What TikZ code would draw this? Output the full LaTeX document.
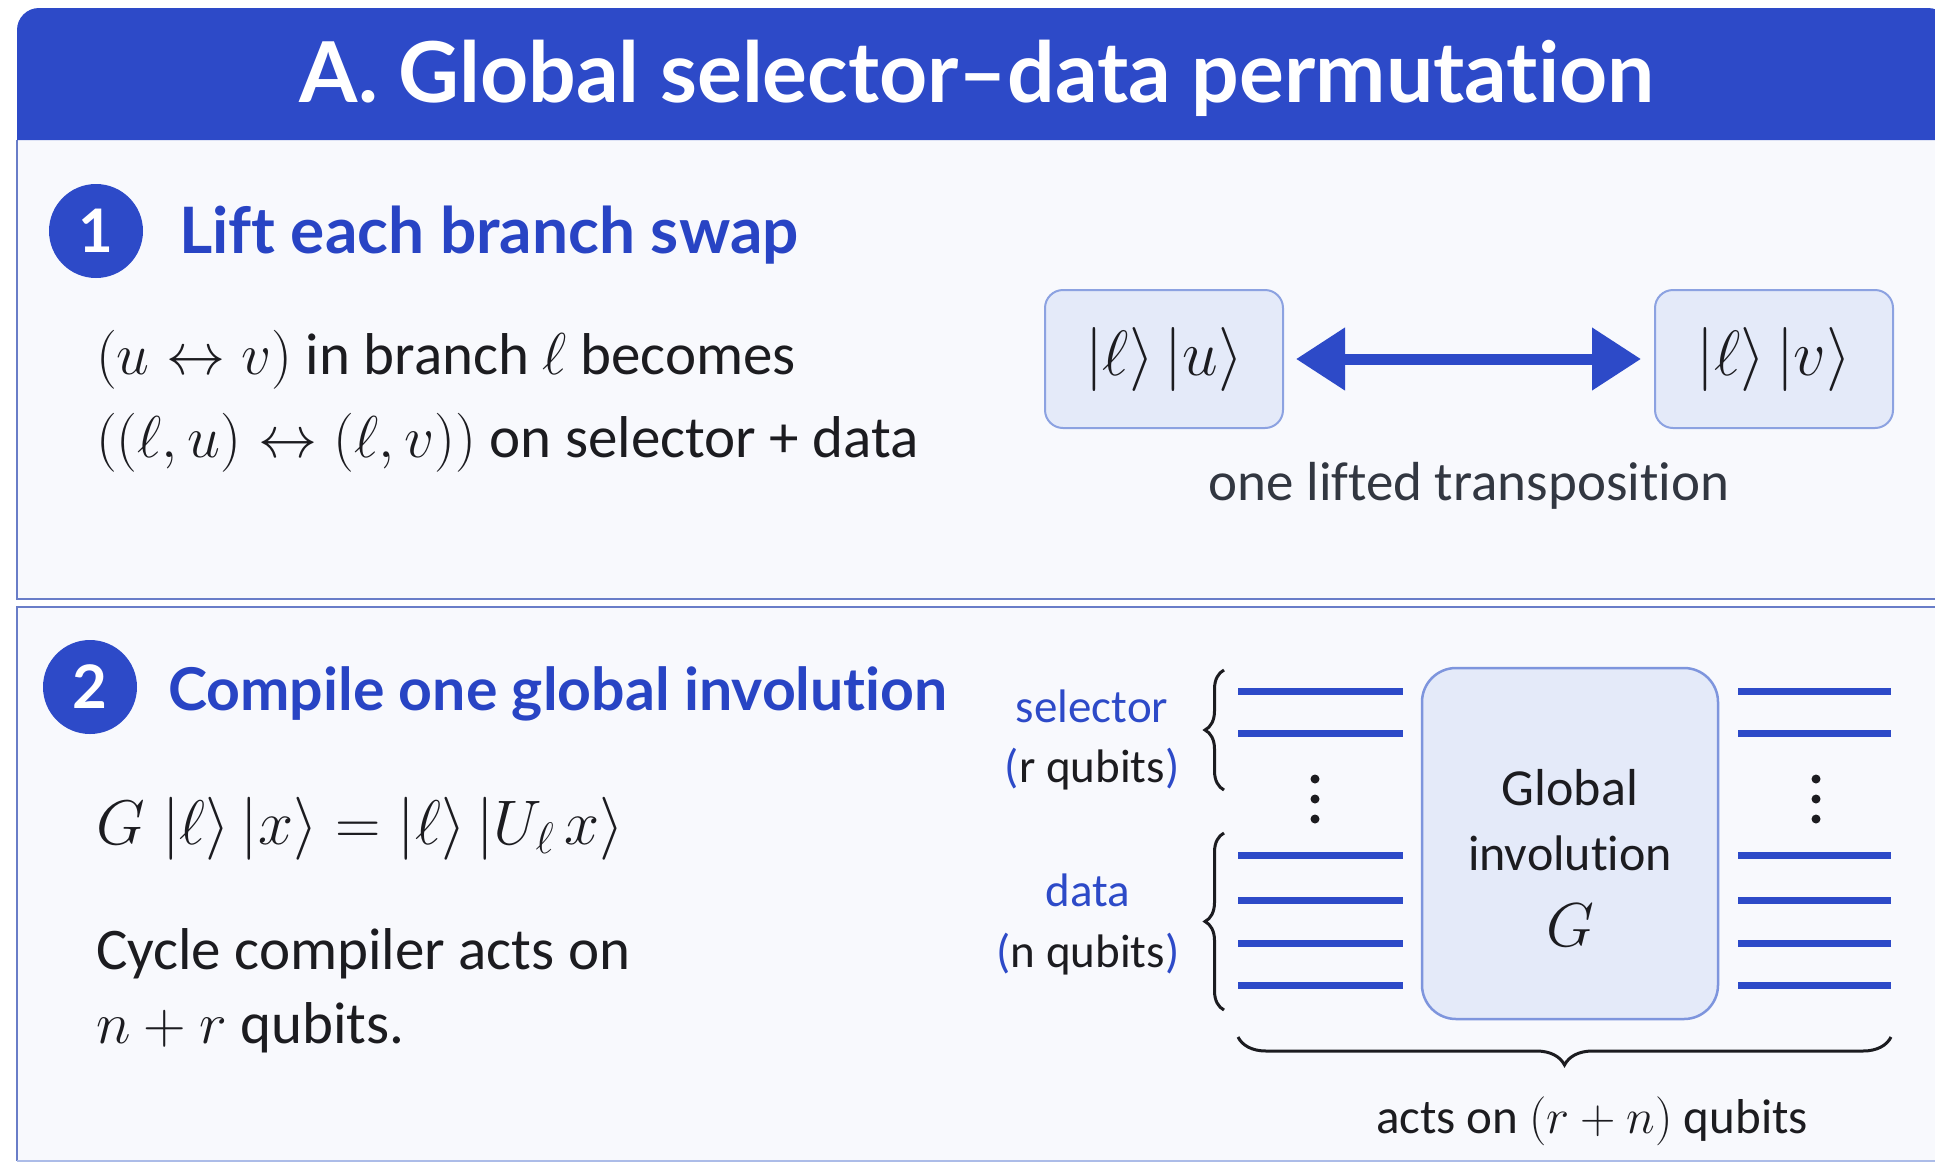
\RequirePackage{fix-cm}
\documentclass[tikz,border=0pt]{standalone}
\usepackage{fontspec}
\setmainfont{Carlito}[Ligatures=NoCommon]
\newfontfamily\headfont{Lato}[Ligatures=NoCommon]
\usetikzlibrary{arrows.meta,decorations.pathreplacing}

\definecolor{hdrblue}{RGB}{45,74,200}
\definecolor{headblue}{RGB}{40,68,196}
\definecolor{panelbg}{RGB}{248,249,253}
\definecolor{panelline}{RGB}{105,125,200}
\definecolor{panellight}{RGB}{172,188,232}
\definecolor{boxfill}{RGB}{228,234,249}
\definecolor{boxline}{RGB}{140,162,225}
\definecolor{ink}{RGB}{28,28,32}
\definecolor{graytxt}{RGB}{50,55,65}

\begin{document}
\begin{tikzpicture}[x=1pt,y=-1pt,
  every node/.style={inner sep=0pt,outer sep=0pt},
  numdot/.style={circle,fill=hdrblue,minimum size=94pt,text=white,
    font=\headfont\bfseries\fontsize{60}{60}\selectfont},
  heading/.style={anchor=base west,text=headblue,
    font=\headfont\bfseries\fontsize{#1}{66}\selectfont},
  body/.style={anchor=base west,text=ink,font=\fontsize{59}{64}\selectfont},
  ketbox/.style={draw=boxline,fill=boxfill,line width=2pt,rounded corners=18pt,
    minimum width=238pt,minimum height=138pt,text=ink,
    font=\fontsize{64}{66}\selectfont},
  wire/.style={hdrblue,line width=7pt},
  regbrace/.style={ink,line width=3pt,decorate},
  reglabel/.style={anchor=base,font=\fontsize{47}{50}\selectfont},
  gatetext/.style={anchor=base,text=ink,font=\fontsize{#1}{54}\selectfont},
]
\useasboundingbox (0,0) rectangle (1935,1163);
\fill[white] (0,0) rectangle (1935,1163);

% panel frames
\fill[panelbg] (17,140) rectangle (1940,599);
\draw[panelline,line width=2.5pt] (17,140) -- (17,599) -- (1940,599);
\fill[panelbg] (17,607) rectangle (1940,1161);
\draw[panelline,line width=2.5pt] (1940,607) -- (17,607) -- (17,1161);
\draw[panellight,line width=2.5pt] (17,1161) -- (1940,1161);

% header band
\fill[hdrblue] (17,140) [rounded corners=22pt] -- (17,8) -- (1950,8) [sharp corners] -- (1950,140) -- cycle;
\node[text=white,font=\headfont\bfseries\fontsize{84}{86}\selectfont] (title) at (977,78)
  {A. Global selector–data permutation};

% step 1
\node[numdot] (n1) at (96,231) {1};
\node[heading=64] (h1) at (179,253) {Lift each branch swap};
\node[body] (t1a) at (96,374) {$(u \leftrightarrow v)$ in branch $\ell$ becomes};
\node[body] (t1b) at (96,457) {$((\ell,u) \leftrightarrow (\ell,v))$ on selector + data};

\node[ketbox] (b1) at (1164,359) {$|\ell\rangle\,|u\rangle$};
\node[ketbox] (b2) at (1774,359) {$|\ell\rangle\,|v\rangle$};
\draw[hdrblue,line width=11pt,
  {Triangle[length=49pt,width=60pt]}-{Triangle[length=49pt,width=60pt]},
  shorten <=13pt,shorten >=14pt] (b1) -- (b2);
\node[anchor=base,text=graytxt,font=\fontsize{55}{58}\selectfont] (cap1) at (1469,500)
  {one lifted transposition};

% step 2
\node[numdot] (n2) at (90,687) {2};
\node[heading=59] (h2) at (168,710) {Compile one global involution};
\node[body,font=\fontsize{63}{66}\selectfont] (eq) at (96,844)
  {$G\;|\ell\rangle\,|x\rangle = |\ell\rangle\,|U_\ell\, x\rangle$};
\node[body] (t2a) at (96,969) {Cycle compiler acts on};
\node[body] (t2b) at (96,1043) {$n+r$ qubits.};

% circuit
\node[draw=boxline!85!hdrblue,fill=boxfill,line width=2.5pt,rounded corners=34pt,
  minimum width=296pt,minimum height=351pt] (G) at (1570,843.5) {};
\node[gatetext=52] (g1) at (1570,805) {Global};
\node[gatetext=50] (g2) at (1570,870) {involution};
\node[gatetext=62] (g3) at (1570,946) {$G$};

\foreach \y in {691,733,855,900,943,985}{
  \draw[wire] (1238,\y) -- (1403,\y);
  \draw[wire] (1738,\y) -- (1891,\y);
}
\foreach \y in {779,799,819}{
  \fill[ink] (1315,\y) circle (4.5pt);
  \fill[ink] (1816,\y) circle (4.5pt);
}

\draw[regbrace,decoration={brace,amplitude=19pt}] (1224,790) -- (1224,670);
\draw[regbrace,decoration={brace,amplitude=19pt}] (1224,1010) -- (1224,833);
\draw[regbrace,decoration={brace,amplitude=28pt}] (1891,1037) -- (1238,1037);

\node[reglabel,text=hdrblue] (sel) at (1092,722) {selector};
\node[reglabel,text=ink] (selq) at (1092,782) {\textcolor{hdrblue}{(}r qubits\textcolor{hdrblue}{)}};
\node[reglabel,text=hdrblue] (dat) at (1088,906) {data};
\node[reglabel,text=ink] (datq) at (1088,967) {\textcolor{hdrblue}{(}n qubits\textcolor{hdrblue}{)}};

\node[anchor=base,text=ink,font=\fontsize{49}{52}\selectfont] (acts) at (1592,1133)
  {acts on $(r+n)$ qubits};
\end{tikzpicture}
\end{document}
